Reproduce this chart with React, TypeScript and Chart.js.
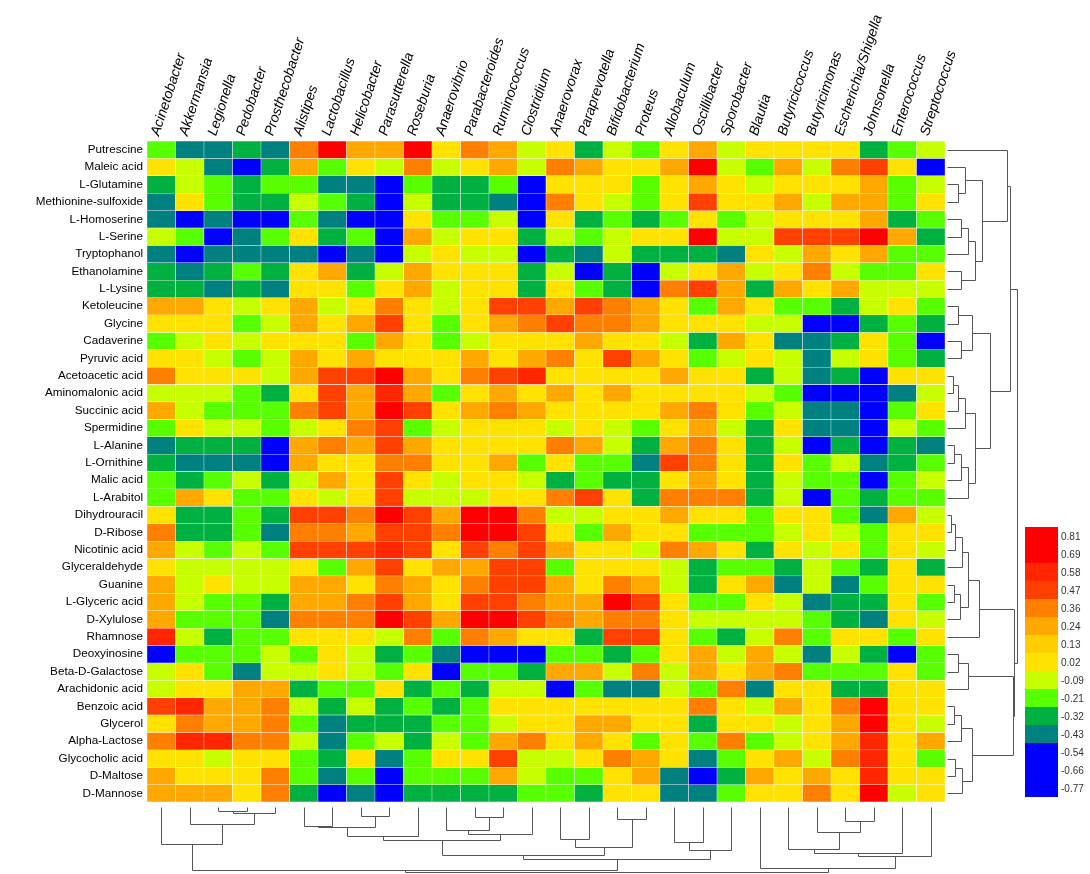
import React, { useEffect, useRef } from 'react';
import { Chart, registerables } from 'chart.js';

Chart.register(...registerables);

const genera = [
  'Acinetobacter', 'Akkermansia', 'Legionella', 'Pedobacter', 'Prosthecobacter', 'Alistipes',
  'Lactobacillus', 'Helicobacter', 'Parasutterella', 'Roseburia', 'Anaerovibrio', 'Parabacteroides',
  'Ruminococcus', 'Clostridium', 'Anaerovorax', 'Paraprevotella', 'Bifidobacterium', 'Proteus',
  'Allobaculum', 'Oscillibacter', 'Sporobacter', 'Blautia', 'Butyricicoccus', 'Butyricimonas',
  'Escherichia/Shigella', 'Johnsonella', 'Enterococcus', 'Streptococcus',
];

const metabolites = [
  'Putrescine', 'Maleic acid', 'L-Glutamine', 'Methionine-sulfoxide', 'L-Homoserine', 'L-Serine',
  'Tryptophanol', 'Ethanolamine', 'L-Lysine', 'Ketoleucine', 'Glycine', 'Cadaverine', 'Pyruvic acid',
  'Acetoacetic acid', 'Aminomalonic acid', 'Succinic acid', 'Spermidine', 'L-Alanine', 'L-Ornithine',
  'Malic acid', 'L-Arabitol', 'Dihydrouracil', 'D-Ribose', 'Nicotinic acid', 'Glyceraldehyde',
  'Guanine', 'L-Glyceric acid', 'D-Xylulose', 'Rhamnose', 'Deoxyinosine', 'Beta-D-Galactose',
  'Arachidonic acid', 'Benzoic acid', 'Glycerol', 'Alpha-Lactose', 'Glycocholic acid', 'D-Maltose',
  'D-Mannose',
];

// correlation values, one row per metabolite, one column per genus
const correlations: number[][] = [
  [-.15, -.38, -.38, -.27, -.38, .42, .75, .3, .3, .75, .12, .42, .3, -.03, .12, -.27, -.03, -.15, .12, .3, -.03, .12, .12, .12, .12, -.27, -.15, -.03],
  [.12, -.03, -.38, -.6, -.27, .3, -.15, .12, -.03, .42, -.03, .12, .3, -.03, .42, .3, .12, .12, .3, .75, -.03, -.15, .3, -.03, .42, .55, .12, -.6],
  [-.27, -.03, -.15, -.27, -.15, -.15, -.38, -.38, -.6, -.15, -.27, -.27, -.15, -.6, .12, .12, .12, -.15, .12, .3, .12, -.03, .12, .12, .12, .3, -.15, -.03],
  [-.38, .12, -.15, -.27, -.27, -.03, -.15, -.27, -.6, -.03, -.27, -.27, -.38, -.6, .42, .12, -.03, -.15, .12, .55, .12, .12, .3, -.03, .3, .3, -.15, .12],
  [-.38, -.6, -.38, -.6, -.6, -.15, -.38, -.6, -.6, .12, -.15, -.15, -.03, -.6, .12, -.27, -.15, -.27, -.15, .12, -.15, -.03, .12, .12, .12, .3, -.27, -.15],
  [-.03, -.15, -.6, -.38, -.15, .12, -.27, -.15, -.6, .3, -.03, .12, .12, -.27, -.03, -.15, -.03, .12, .12, .75, -.03, -.03, .55, .55, .55, .7, .3, -.27],
  [-.38, -.6, -.38, -.38, -.38, -.38, -.6, -.38, -.6, -.03, .12, -.03, -.03, -.6, -.27, -.38, -.03, -.27, -.27, -.27, -.38, .12, -.03, .3, .12, .3, -.15, -.15],
  [-.27, -.38, -.27, -.15, -.27, .12, .3, -.27, -.03, .3, .12, .12, .12, -.27, -.03, -.6, -.27, -.6, -.03, .12, .3, -.03, .12, .42, -.03, -.15, -.15, .12],
  [-.27, -.27, -.38, -.27, -.38, .12, .12, -.15, .12, .3, -.03, .12, .12, -.27, .12, -.15, -.27, -.6, .42, .55, .3, -.27, .3, .12, .3, -.03, -.03, -.03],
  [.3, .3, .12, -.03, .12, .3, -.03, .12, .42, .12, -.03, .12, .55, .55, .3, .55, .42, .3, .12, -.15, .3, .12, -.15, -.15, -.27, -.03, .12, -.15],
  [.12, .12, .12, -.15, -.03, .3, .12, .3, .55, .12, -.15, .12, .3, .42, .55, .42, .42, .3, .12, .12, .12, -.03, -.03, -.6, -.6, -.27, -.15, -.27],
  [-.15, -.03, .12, -.03, .12, .12, .12, -.15, .3, .12, -.15, -.03, .12, .12, .12, .3, .12, .12, -.03, -.27, .3, .12, -.38, -.38, -.27, .12, -.15, -.6],
  [.12, .12, -.03, -.15, -.03, .3, .12, .3, .12, .12, .12, .3, .12, .3, .42, .12, .55, .3, .12, -.15, -.03, .12, -.03, -.38, -.03, .12, -.15, -.27],
  [.42, .12, .12, .12, -.03, .3, .55, .55, .75, .3, .12, .42, .55, .6, .12, .12, .12, .12, .3, .12, .12, -.27, -.03, -.38, -.27, -.6, .12, .12],
  [-.03, -.03, -.03, -.15, -.27, .12, .55, .3, .6, .3, -.15, .12, .3, .12, .3, .12, .3, .12, .12, .12, .12, -.03, -.15, -.6, -.6, -.6, -.38, -.03],
  [.3, -.03, -.15, -.15, -.15, .42, .55, .3, .72, .55, .12, .3, .42, .3, .12, .12, .12, .12, .3, .42, .12, -.15, -.03, -.38, -.38, -.6, -.15, .12],
  [-.15, .12, -.03, -.03, -.15, -.03, .12, .42, .55, -.15, -.03, .12, .12, .12, -.03, .12, -.03, -.15, .12, .3, -.03, -.27, .12, -.38, -.38, -.6, -.03, -.15],
  [-.38, -.27, -.27, -.27, -.6, .3, .42, .3, .55, .3, .12, .12, .12, .12, .42, .3, -.03, -.27, .3, .42, .12, -.27, -.03, -.6, -.27, -.6, -.27, -.38],
  [-.27, -.38, -.38, -.38, -.6, .3, .12, .12, .42, .42, .12, .12, .3, -.15, .12, -.15, -.15, -.38, .55, .42, .12, -.27, .12, -.15, -.03, -.38, -.27, -.15],
  [-.15, -.27, -.15, -.03, -.27, -.03, .3, .12, .55, .12, -.03, .12, .12, -.03, -.27, -.15, -.27, -.27, .12, .3, .12, -.27, -.03, -.15, -.15, -.6, -.15, -.03],
  [-.15, .3, .12, -.15, -.15, .12, -.03, .12, .55, -.03, -.03, -.03, .12, .12, .42, .55, .12, -.27, .42, .42, .42, -.27, -.03, -.6, -.15, -.27, -.15, -.15],
  [.12, -.27, -.27, -.15, -.27, .55, .55, .42, .75, .55, .3, .75, .75, .42, -.03, -.03, .12, .12, .3, .12, .12, -.15, .12, .12, -.15, -.38, .3, -.03],
  [.42, -.27, -.27, -.15, -.38, .42, .42, .3, .55, .55, .42, .75, .75, .55, .12, -.15, .3, .12, .12, -.15, -.15, -.15, -.03, .12, -.03, -.15, .12, .12],
  [.3, -.03, -.15, -.03, -.15, .55, .55, .55, .6, .55, .12, .55, .42, .55, .3, .12, .12, -.03, .42, .3, .12, -.27, .12, -.03, .12, -.15, .12, -.03],
  [.12, -.03, -.03, -.03, -.03, .12, -.15, .3, .55, .12, .3, .3, .55, .55, -.15, .12, .12, .12, -.03, -.27, -.15, -.15, -.27, -.03, -.15, -.27, .12, -.27],
  [.3, -.03, .12, -.03, -.03, .3, .3, .12, .42, .3, .12, .42, .55, .55, .3, .12, .42, .3, -.03, -.27, .12, .3, -.38, -.03, -.38, -.15, .12, .12],
  [.3, -.03, -.15, -.15, -.27, .3, .3, .42, .55, .3, .12, .55, .55, .42, .3, .3, .75, .55, .12, -.15, -.15, .12, -.03, -.38, -.27, -.27, .12, -.15],
  [.3, -.15, -.15, -.15, -.38, .42, .42, .42, .75, .55, .3, .75, .75, .55, .42, .3, .42, .42, .12, -.03, -.03, -.03, -.03, -.15, -.27, -.38, .12, -.03],
  [.6, -.03, -.27, -.15, -.15, .12, .12, .12, -.03, .42, -.15, .42, .3, .12, .12, -.27, .55, .55, .12, -.15, -.27, -.03, .42, -.15, .12, .12, -.15, .12],
  [-.6, -.15, -.15, -.15, -.03, -.15, .12, -.03, -.27, -.15, -.38, -.6, -.6, -.6, -.15, -.15, -.27, -.15, .12, .3, -.03, .3, -.03, -.38, -.03, -.27, -.6, -.15],
  [-.03, .12, -.15, -.38, -.03, -.03, .12, -.03, -.15, .12, -.6, -.15, -.15, -.27, .3, .3, -.03, .42, -.03, .3, .12, .3, .42, -.15, -.15, -.15, .12, -.15],
  [-.03, .12, .12, .3, .3, -.27, -.15, -.15, .12, -.27, -.15, -.27, -.03, -.03, -.6, -.15, -.38, -.38, -.03, -.15, .42, -.38, .12, .12, -.27, -.27, .12, .12],
  [.55, .6, .3, .3, .42, -.03, -.27, -.03, -.27, -.15, -.27, -.15, .12, .12, .12, .12, .12, .12, .12, .42, .12, -.03, .3, .12, .42, .75, .12, .12],
  [.12, .42, .3, .3, .42, -.15, -.38, -.27, -.27, -.27, -.15, -.15, -.03, .12, .12, .3, .3, .12, .12, -.27, .12, .12, -.03, .12, .3, .75, .12, -.03],
  [.42, .6, .6, .42, .42, -.03, -.38, -.15, -.03, -.27, -.03, -.15, .3, .42, .12, .3, .12, -.15, .12, -.15, .42, -.15, -.03, .12, .3, .6, .12, .3],
  [.12, .12, -.03, .12, .12, -.15, -.27, .12, -.38, -.15, .12, .12, .55, -.03, -.03, .12, .42, .3, .12, -.38, -.15, .12, .3, -.03, .42, .6, .12, -.15],
  [.3, .12, .12, .12, .42, -.15, -.38, -.15, -.6, -.15, -.15, -.15, .3, -.03, -.15, -.15, .12, .3, -.38, -.6, -.27, .3, .12, .3, .12, .6, .12, .12],
  [.3, .3, .3, .12, .42, -.27, -.6, -.38, -.6, -.27, -.27, -.27, -.27, -.15, -.15, -.27, .12, .12, -.38, -.38, -.15, .12, .12, .42, .12, .75, -.03, .12],
];

// colour key: upper bin edges and colours (high to low)
const binEdges = [0.69, 0.58, 0.47, 0.36, 0.24, 0.13, 0.02, -0.09, -0.21, -0.32, -0.43];
const binColors = ['#FF0000', '#FF2600', '#FF4000', '#FF8000', '#FFA800', '#FFCE00', '#FFE200', '#C8FF00', '#58FF00', '#00B040', '#00807F', '#0000FF'];

const legendTicks = ['0.81', '0.69', '0.58', '0.47', '0.36', '0.24', '0.13', '0.02', '-0.09', '-0.21', '-0.32', '-0.43', '-0.54', '-0.66', '-0.77'];
const legendColors = ['#FF0000', '#FF0000', '#FF2600', '#FF4000', '#FF8000', '#FFA800', '#FFCE00', '#FFE200', '#C8FF00', '#58FF00', '#00B040', '#00807F', '#0000FF', '#0000FF', '#0000FF'];

type Tree = number | [number, Tree, Tree];

// column (genus) clustering: [mergeHeight, left, right]
const columnTree: Tree = [1.0,
  [0.969,
    [0.565, 0, [0.258, 1, [0.092, [0.065, 2, 3], 4]]],
    [0.796,
      [0.738,
        [0.508,
          [0.45, [0.315, [0.296, 5, 6], [0.131, 7, 8]], 9],
          [0.419, [0.354, 10, [0.16, 11, 12]], 13]],
        [0.615, [0.488, 14, 15], [0.192, 16, 17]]],
      [0.669, [0.538, 18, 19], 20]]],
  [0.938, 21, [0.758, [0.70, [0.642, 22, [0.385, 23, [0.219, 24, 25]]], 26], 27]],
];

// row (metabolite) clustering
const rowTree: Tree = [1.0,
  [0.9,
    [0.85, 0, [0.5, [0.25, 1, [0.15, 2, 3]], [0.4, [0.3, [0.2, 4, 5], 6], [0.2, 7, 8]]]],
    [0.62,
      [0.35, [0.15, 9, 10], [0.2, 11, 12]],
      [0.4, [0.25, [0.15, [0.08, 13, 14], 15], 16], [0.3, [0.2, [0.1, 17, 18], 19], 20]]]],
  [0.96,
    [0.45, [0.3, [0.22, [0.12, [0.05, 21, 22], 23], 24], [0.18, [0.1, 25, 26], 27]], 28],
    [0.94,
      [0.3, [0.15, 29, 30], 31],
      [0.35, [0.2, [0.1, 32, 33], 34], [0.22, [0.12, 35, 36], 37]]]],
];

function colorFor(v: number): string {
  for (let i = 0; i < binEdges.length; i++) {
    if (v >= binEdges[i]) return binColors[i];
  }
  return binColors[binColors.length - 1];
}

function drawTree(
  ctx: CanvasRenderingContext2D,
  node: Tree,
  leafPos: (i: number) => number,
  depthPos: (h: number) => number,
  vertical: boolean,
): { p: number; h: number } {
  if (typeof node === 'number') return { p: leafPos(node), h: 0 };
  const [h, a, b] = node;
  const ra = drawTree(ctx, a, leafPos, depthPos, vertical);
  const rb = drawTree(ctx, b, leafPos, depthPos, vertical);
  const d = depthPos(h);
  const line = (p1: number, d1: number, p2: number, d2: number) => {
    ctx.beginPath();
    if (vertical) {
      ctx.moveTo(p1, d1);
      ctx.lineTo(p2, d2);
    } else {
      ctx.moveTo(d1, p1);
      ctx.lineTo(d2, p2);
    }
    ctx.stroke();
  };
  line(ra.p, depthPos(ra.h), ra.p, d);
  line(rb.p, depthPos(rb.h), rb.p, d);
  line(ra.p, d, rb.p, d);
  return { p: Math.round((ra.p + rb.p) / 2 - 0.5) + 0.5, h };
}

const decorPlugin = {
  id: 'decor',
  afterDraw(chart: any) {
    const { ctx, chartArea, scales } = chart;
    const xs = scales.x;
    const ys = scales.y;
    ctx.save();
    ctx.strokeStyle = '#555';
    ctx.lineWidth = 1;
    // bottom dendrogram (columns)
    drawTree(ctx, columnTree, (i) => Math.round(xs.getPixelForValue(i)) + 0.5,
      (h) => Math.round(chartArea.bottom + 5 + h * 65) + 0.5, true);
    // right dendrogram (rows)
    drawTree(ctx, rowTree, (i) => Math.round(ys.getPixelForValue(i)) + 0.5,
      (h) => Math.round(chartArea.right + 2 + h * 70) + 0.5, false);

    // colour key
    const kx = 1025;
    const ky = 527;
    const kw = 33;
    const kh = 18;
    legendColors.forEach((c, i) => {
      ctx.fillStyle = c;
      ctx.fillRect(kx, ky + i * kh, kw, kh);
    });
    ctx.fillStyle = '#333';
    ctx.font = '10px "Liberation Sans", Arial, sans-serif';
    ctx.textAlign = 'left';
    ctx.textBaseline = 'middle';
    legendTicks.forEach((t, i) => {
      ctx.fillText(t, kx + kw + 3, ky + i * kh + kh / 2 + 1);
    });
    ctx.restore();
  },
};

export default function App() {
  const ref = useRef<HTMLCanvasElement | null>(null);

  useEffect(() => {
    if (!ref.current) return;
    const datasets = metabolites.map((m, r) => ({
      label: m,
      data: genera.map(() => [r - 0.5, r + 0.5]),
      backgroundColor: correlations[r].map(colorFor),
      borderColor: 'rgba(255,255,255,0.75)',
      borderWidth: 0.5,
      borderSkipped: false,
      barPercentage: 1,
      categoryPercentage: 1,
      grouped: false,
    }));
    const chart = new Chart(ref.current, {
      type: 'bar',
      data: { labels: genera, datasets: datasets as any },
      options: {
        responsive: false,
        animation: false,
        devicePixelRatio: 1,
        layout: { padding: { left: 0, right: 145, top: 0, bottom: 72 } },
        plugins: { legend: { display: false }, tooltip: { enabled: false } },
        scales: {
          x: {
            type: 'category',
            position: 'top',
            offset: true,
            grid: { display: false, drawTicks: false },
            border: { display: false },
            ticks: {
              autoSkip: false,
              minRotation: 72,
              maxRotation: 72,
              padding: 3,
              labelOffset: 10,
              color: '#000',
              font: { family: '"Liberation Sans", Arial, sans-serif', size: 14, style: 'italic' },
            },
            afterFit: (s: any) => { s.height = 141; },
          },
          y: {
            type: 'linear',
            reverse: true,
            min: -0.5,
            max: 37.5,
            grid: { display: false, drawTicks: false },
            border: { display: false },
            afterBuildTicks: (s: any) => { s.ticks = metabolites.map((_, i) => ({ value: i })); },
            ticks: {
              autoSkip: false,
              padding: 4,
              color: '#000',
              font: { family: '"Liberation Sans", Arial, sans-serif', size: 11.7 },
              callback: (_v: any, i: number) => metabolites[i],
            },
            afterFit: (s: any) => { s.width = 147; },
          },
        },
      },
      plugins: [decorPlugin],
    });
    return () => chart.destroy();
  }, []);

  return (
    <div style={{ position: 'absolute', left: 0, top: 0, width: 1090, height: 874, background: '#fff' }}>
      <canvas ref={ref} width={1090} height={874} />
    </div>
  );
}
